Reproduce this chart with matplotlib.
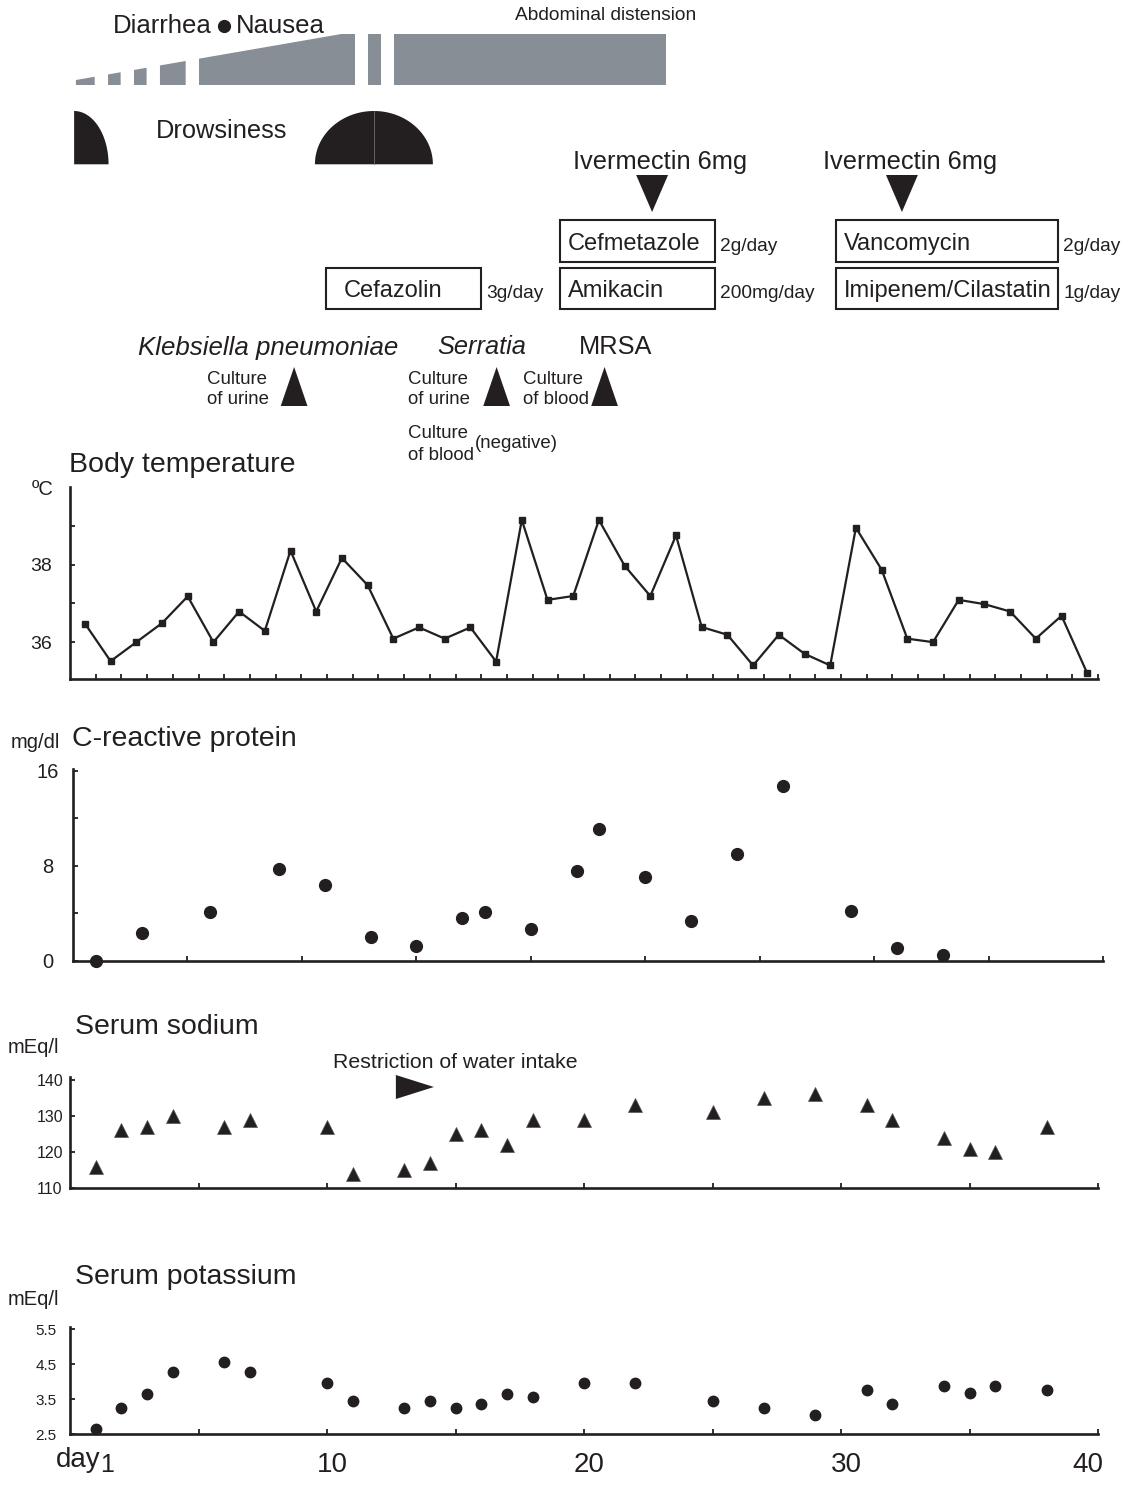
import numpy as np
import matplotlib
matplotlib.use("Agg")
import matplotlib.pyplot as plt
from matplotlib.patches import Polygon, Rectangle

plt.rcParams['font.family'] = ['Liberation Sans', 'DejaVu Sans']

# ---------------- data ----------------
temp_days = [1, 2, 3, 4, 5, 6, 7, 8, 9, 10, 11, 12, 13, 14, 15, 16, 17, 18, 19, 20,
             21, 22, 23, 24, 25, 26, 27, 28, 29, 30, 31, 32, 33, 34, 35, 36, 37, 38, 39, 40]
temp_values = [36.48, 35.51, 36.0, 36.49, 37.18, 36.0, 36.79, 36.29, 38.36, 36.79,
               38.17, 37.47, 36.09, 36.38, 36.09, 36.38, 35.5, 39.15, 37.09, 37.19,
               39.15, 37.97, 37.19, 38.75, 36.39, 36.19, 35.40, 36.19, 35.70, 35.40,
               38.95, 37.87, 36.09, 36.0, 37.09, 36.98, 36.79, 36.09, 36.68, 35.2]

crp_days = [1, 3, 6, 9, 11, 13, 15, 17, 18, 20, 22, 23, 25, 27, 29, 31, 34, 36, 38]
crp_values = [0.0, 2.36, 4.08, 7.73, 6.41, 1.97, 1.27, 3.6, 4.08, 2.67,
              7.56, 11.08, 7.03, 3.37, 9.0, 14.73, 4.19, 1.04, 0.48]

lab_days = [1, 2, 3, 4, 6, 7, 10, 11, 13, 14, 15, 16, 17, 18, 20, 22, 25, 27, 29, 31,
            32, 34, 35, 36, 38]
sodium_values = [116, 126, 127, 130, 127, 129, 127, 114, 115, 117, 125, 126, 122, 129,
                 129, 133, 131, 135, 136, 133, 129, 124, 121, 120, 127]
potassium_values = [2.64, 3.25, 3.65, 4.26, 4.57, 4.26, 3.96, 3.45, 3.25, 3.45, 3.25,
                    3.35, 3.65, 3.56, 3.97, 3.97, 3.45, 3.25, 3.05, 3.76, 3.36, 3.87,
                    3.67, 3.87, 3.76]

# symptom periods (days)
gi_segments = [(0.23, 0.96), (1.48, 1.97), (2.49, 2.98), (3.50, 4.50), (5.02, 10.56),
               (10.56, 11.08), (11.6, 12.09), (12.6, 23.2)]
drowsy_quarter = (0.16, 1.5)          # left flat edge -> right end
drowsy_half = (9.53, 14.12)           # half-ellipse extent

# drugs: name, start day, end day, row, dose
drugs = [("Cefmetazole", 19.07, 25.10, 0, "2g/day"),
         ("Amikacin", 19.07, 25.10, 1, "200mg/day"),
         ("Cefazolin", 9.96, 16.0, 1, "3g/day"),
         ("Vancomycin", 29.8, 38.44, 0, "2g/day"),
         ("Imipenem/Cilastatin", 29.8, 38.44, 1, "1g/day")]
ivermectin_days = [22.65, 32.37]
culture_days = [8.72, 16.6, 20.8]
water_restriction_day = 12.68

# ---------------- figure ----------------
W, H = 1136, 1485
fig = plt.figure(figsize=(W / 100, H / 100), dpi=100)
INK = '#231f20'
GREY = '#878e96'
PX_PER_DAY = 25.7
X0 = 70.0


def px_axes(x0, y0, x1, y1, **kw):
    return fig.add_axes([x0 / W, 1 - y1 / H, (x1 - x0) / W, (y1 - y0) / H], **kw)


# overlay axis: x in days, y in pixels (top-down)
ov = px_axes(0, 0, W, H)
ov.set_xlim(-X0 / PX_PER_DAY, (W - X0) / PX_PER_DAY)
ov.set_ylim(H, 0)
ov.axis('off')

# --- diarrhea / nausea ramp ---
def ramp_top(d):
    f = np.clip((d - 0.23) / (10.56 - 0.23), 0, 1)
    return 80 - 46 * f

for s, e in gi_segments:
    ov.add_patch(Polygon([(s, 85), (s, ramp_top(s)), (e, ramp_top(e)), (e, 85)],
                         closed=True, facecolor=GREY, edgecolor='none'))

ov.text(5.52, 33, "Diarrhea", fontsize=18.5, color=INK, va='baseline', ha='right')
ov.plot([6.0], [25.5], 'o', color=INK, markersize=8.5)
ov.text(6.45, 33, "Nausea", fontsize=18.5, color=INK, va='baseline')
ov.text(17.32, 19.5, "Abdominal distension", fontsize=13.8, color=INK, va='baseline')

# --- drowsiness ---
t = np.linspace(0, np.pi / 2, 60)
s, e = drowsy_quarter
qx = np.concatenate([[s], s + (e - s) * np.sin(t), [s]])
qy = np.concatenate([[164.3], 164.3 - 53.3 * np.cos(t), [164.3]])
ov.add_patch(Polygon(np.column_stack([qx, qy]), closed=True, facecolor=INK, edgecolor='none'))
t2 = np.linspace(-np.pi / 2, np.pi / 2, 120)
s, e = drowsy_half
c = (s + e) / 2
hx = c + (e - s) / 2 * np.sin(t2)
hy = 164.3 - 53.3 * np.cos(t2)
ov.add_patch(Polygon(np.column_stack([hx, hy]), closed=True, facecolor=INK, edgecolor='none'))
ov.plot([c, c], [111, 164.3], color='#6e6e6e', lw=0.6)
ov.text(3.35, 137.5, "Drowsiness", fontsize=18.3, color=INK, va='baseline')

# --- ivermectin ---
for d in ivermectin_days:
    ov.add_patch(Polygon([(d - 0.62, 175), (d + 0.62, 175), (d, 212)], closed=True,
                         facecolor=INK, edgecolor='none'))
    ov.text(d + 0.3, 169.5, "Ivermectin 6mg", fontsize=18.3, color=INK,
            ha='center', va='baseline')

# --- drug boxes ---
row_y = [(220, 262), (268, 309)]
for name, s, e, row, dose in drugs:
    y0, y1 = row_y[row]
    ov.add_patch(Rectangle((s, y0), e - s, y1 - y0, facecolor='none', edgecolor=INK, lw=1.5))
    pad = 0.7 if name == "Cefazolin" else 0.3
    ov.text(s + pad, y1 - 12, name, fontsize=17, color=INK, va='baseline')
    ov.text(e + 0.2, y1 - 11, dose, fontsize=13.8, color=INK, va='baseline')

# --- cultures ---
ov.text(7.7, 355, "Klebsiella pneumoniae", fontsize=18.6, style='italic', color=INK,
        ha='center', va='baseline')
ov.text(14.28, 354, "Serratia", fontsize=18.3, style='italic', color=INK, va='baseline')
ov.text(19.8, 354, "MRSA", fontsize=18.3, color=INK, va='baseline')
for d in culture_days:
    ov.add_patch(Polygon([(d - 0.52, 406), (d + 0.52, 406), (d, 367)], closed=True,
                         facecolor=INK, edgecolor='none'))
culture_labels = [(5.33, 383.5, "Culture"), (5.33, 404, "of urine"),
                  (13.15, 383.5, "Culture"), (13.15, 404, "of urine"),
                  (17.63, 383.5, "Culture"), (17.63, 404, "of blood"),
                  (13.15, 438.5, "Culture"), (13.15, 459.5, "of blood"),
                  (15.76, 448.5, "(negative)")]
for d, y, txt in culture_labels:
    ov.text(d, y, txt, fontsize=13.4, color=INK, va='baseline')

# --- panel titles & units ---
titles = [(-0.04, 472, "Body temperature"), (0.08, 746.5, "C-reactive protein"),
          (0.19, 1034, "Serum sodium"), (0.19, 1284, "Serum potassium")]
for d, y, txt in titles:
    ov.text(d, y, txt, fontsize=20.5, color=INK, va='baseline')
units = [(-1.48, 495, "ºC"), (-2.29, 748, "mg/dl"), (-2.42, 1053, "mEq/l"), (-2.42, 1305, "mEq/l")]
for d, y, txt in units:
    ov.text(d, y, txt, fontsize=14.5, color=INK, va='baseline')

# --- water restriction ---
w = water_restriction_day
ov.add_patch(Polygon([(w, 1075), (w, 1099), (w + 1.48, 1087)], closed=True,
                     facecolor=INK, edgecolor='none'))
ov.text(10.23, 1068.3, "Restriction of water intake", fontsize=15.3, color=INK, va='baseline')

# --- bottom day labels ---
ov.text(1.17, 1467, "day", fontsize=20, color=INK, ha='right', va='baseline')
ov.text(1.17, 1472, "1", fontsize=18, color=INK, ha='left', va='baseline')
for d, txt in [(10.2, "10"), (20.2, "20"), (30.2, "30"), (39.6, "40")]:
    ov.text(d, 1472, txt, fontsize=20, color=INK, ha='center', va='baseline')


def style(ax, ylabels_size, pad_pt):
    ax.set_facecolor('none')
    for sp in ['top', 'right']:
        ax.spines[sp].set_visible(False)
    for sp in ['left', 'bottom']:
        ax.spines[sp].set_linewidth(1.9)
        ax.spines[sp].set_color(INK)
        ax.spines[sp].set_capstyle('projecting')
    ax.tick_params(direction='in', length=3.5, width=1.3, colors=INK,
                   labelsize=ylabels_size)
    ax.tick_params(axis='y', pad=pad_pt)
    ax.tick_params(axis='x', labelbottom=False)


# --- body temperature ---
ax1 = px_axes(70, 487, 1098, 679)
ax1.plot(np.array(temp_days) - 0.42, temp_values, '-s', color=INK, lw=1.6,
         markersize=5, clip_on=False)
ax1.set_xlim(0, 40)
ax1.set_ylim(35.05, 40)
ax1.set_xticks(temp_days)
ax1.set_yticks([36, 37, 38, 39])
ax1.set_yticklabels(['36', '', '38', ''])
style(ax1, 14, 20.9)
for lab in ax1.get_yticklabels():
    lab.set_ha('center')

# --- CRP ---
ax2 = px_axes(73, 769, 1103, 960.7)
ax2.plot(crp_days, crp_values, 'o', color=INK, markersize=8.5, clip_on=False)
ax2.set_xlim(0, 45)
ax2.set_ylim(0, 16.15)
ax2.set_xticks([5, 10, 15, 20, 25, 30, 35, 40, 45])
ax2.set_yticks([0, 4, 8, 12, 16])
ax2.set_yticklabels(['0', '', '8', '', '16'])
style(ax2, 14.5, 18)
for lab in ax2.get_yticklabels():
    lab.set_ha('center')

# --- sodium ---
ax3 = px_axes(70, 1077, 1098, 1188.3)
ax3.plot(lab_days, sodium_values, '^', color=INK, markersize=10,
         markeredgecolor='#555555', markeredgewidth=0.5, clip_on=False)
ax3.set_xlim(0, 40)
ax3.set_ylim(110, 140.8)
ax3.set_xticks([5, 10, 15, 20, 25, 30, 35, 40])
ax3.set_yticks([110, 120, 130, 140])
style(ax3, 11.5, 14.4)
for lab in ax3.get_yticklabels():
    lab.set_ha('center')

# --- potassium ---
ax4 = px_axes(70, 1326.7, 1098, 1434)
ax4.plot(lab_days, potassium_values, 'o', color=INK, markersize=7.5, clip_on=False)
ax4.set_xlim(0, 40)
ax4.set_ylim(2.5, 5.57)
ax4.set_xticks([5, 10, 15, 20, 25, 30, 35, 40])
ax4.set_yticks([2.5, 3.5, 4.5, 5.5])
ax4.set_yticklabels(['2.5', '3.5', '4.5', '5.5'])
style(ax4, 11, 17.3)
for lab in ax4.get_yticklabels():
    lab.set_ha('center')

fig.savefig('out.png', dpi=100)
